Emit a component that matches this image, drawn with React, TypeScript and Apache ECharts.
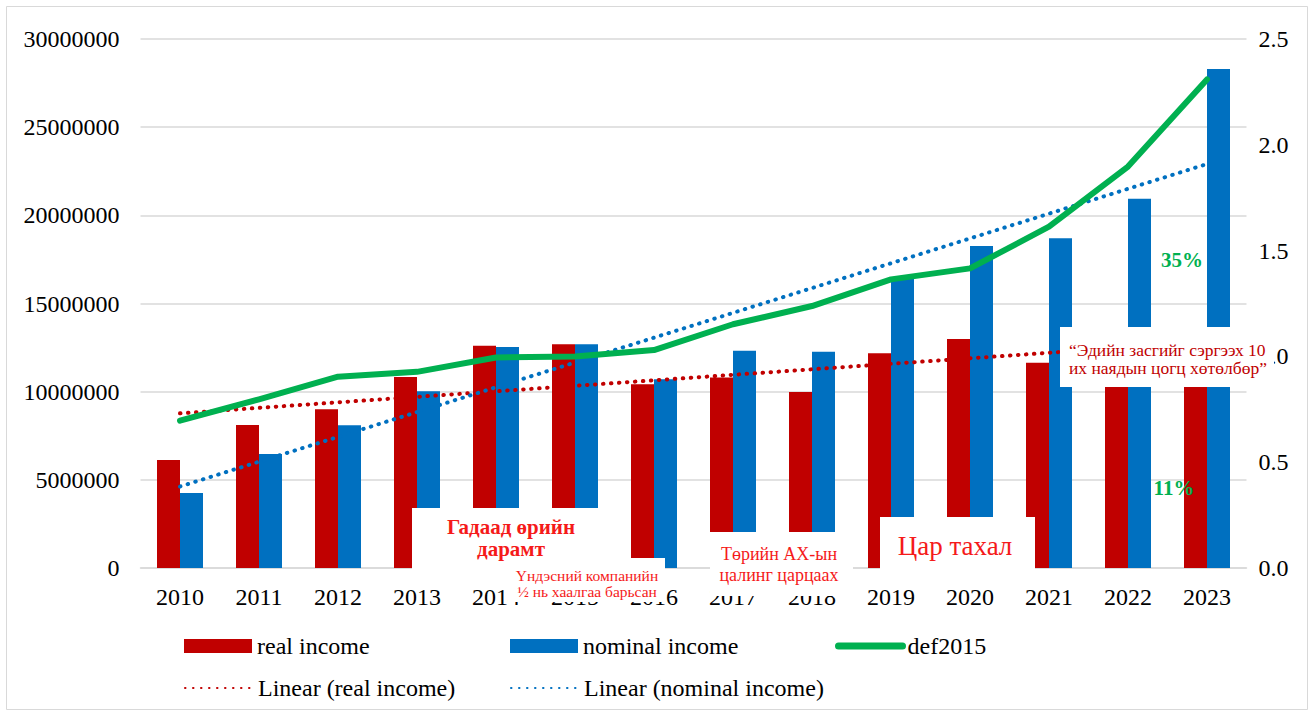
import React, { useEffect, useRef } from "react";
import * as echarts from "echarts";

const years = ["2010", "2011", "2012", "2013", "2014", "2015", "2016", "2017", "2018", "2019", "2020", "2021", "2022", "2023"];
const realIncome = [6120000, 8110000, 9000000, 10830000, 12610000, 12690000, 10420000, 10810000, 9980000, 12180000, 12990000, 11640000, 11040000, 12260000];
const nominalIncome = [4260000, 6460000, 8090000, 10020000, 12530000, 12690000, 10700000, 12320000, 12270000, 16460000, 18260000, 18700000, 20940000, 28300000];
const def2015 = [0.696, 0.797, 0.904, 0.927, 0.995, 1.0, 1.03, 1.152, 1.238, 1.364, 1.416, 1.613, 1.897, 2.309];
// trendline endpoints (2010, 2023)
const trendReal = [8770000, 12830000];
const trendNominal = [4620000, 22910000];
const leftTicks = { min: 0, max: 30000000, interval: 5000000 };
const rightTicks = { min: 0, max: 2.5, interval: 0.5 };

const FONT = "Liberation Serif, Times New Roman, serif";

function endpoints(pair: number[]) {
  return years.map((_, i) => (i === 0 ? pair[0] : i === years.length - 1 ? pair[1] : null));
}

export default function App() {
  const ref = useRef<HTMLDivElement>(null);
  useEffect(() => {
    if (!ref.current) return;
    const chart = echarts.init(ref.current, null, { renderer: "svg" });
    const legendText = { fontSize: 24, fontFamily: FONT, color: "#000" };
    const legendBase = { itemWidth: 68, itemHeight: 14, textStyle: legendText, selectedMode: false as const, padding: 0 };
    const lineLegend = { ...legendBase, itemStyle: { opacity: 0 } };
    const box = (x: number, y: number, w: number, h: number) => ({
      type: "rect", z: 1000, z2: 1000, shape: { x, y, width: w, height: h }, style: { fill: "#fff" },
    });
    const txt = (x: number, y: number, text: string, size: number, color: string, align: string, lh: number, weight = "normal") => ({
      type: "text", z: 1001, z2: 1001, x, y,
      style: { text, font: `${weight} ${size}px ${FONT}`, fill: color, align, verticalAlign: "middle", lineHeight: lh },
    });
    chart.setOption({
      animation: false,
      textStyle: { fontFamily: FONT },
      grid: { left: 140.5, right: 67.5, top: 39, bottom: 148, containLabel: false },
      xAxis: {
        type: "category",
        data: years,
        z: 0,
        axisLine: { lineStyle: { color: "#d9d9d9", width: 1.5 } },
        axisTick: { show: false },
        axisLabel: { fontSize: 24, fontFamily: FONT, color: "#000", margin: 17 },
      },
      yAxis: [
        {
          type: "value", ...leftTicks,
          axisLabel: { fontSize: 24, fontFamily: FONT, color: "#000", margin: 21, formatter: (v: number) => String(v) },
          splitLine: { lineStyle: { color: "#d9d9d9", width: 1.5 } },
          axisLine: { show: false }, axisTick: { show: false },
        },
        {
          type: "value", ...rightTicks,
          axisLabel: { fontSize: 24, fontFamily: FONT, color: "#000", margin: 12, formatter: (v: number) => v.toFixed(1) },
          splitLine: { show: false }, axisLine: { show: false }, axisTick: { show: false },
        },
      ],
      legend: [
        { ...legendBase, data: [{ name: "real income", icon: "rect" }], left: 184, top: 634 },
        { ...legendBase, data: [{ name: "nominal income", icon: "rect" }], left: 510, top: 634 },
        { ...lineLegend, itemWidth: 64, data: ["def2015"], left: 835, top: 634, lineStyle: { width: 7 } },
        { ...lineLegend, data: ["Linear (real income)"], left: 184, top: 676 },
        { ...lineLegend, data: ["Linear (nominal income)"], left: 510, top: 676 },
      ],
      series: [
        { name: "real income", type: "bar", data: realIncome, barWidth: 23, barGap: "0%", itemStyle: { color: "#C00000" }, z: 2 },
        { name: "nominal income", type: "bar", data: nominalIncome, barWidth: 23, barGap: "0%", itemStyle: { color: "#0070C0" }, z: 2 },
        {
          name: "Linear (real income)", type: "line", data: endpoints(trendReal), connectNulls: true, symbol: "none", z: 3,
          lineStyle: { color: "#C00000", width: 4, type: [0.5, 7.5], cap: "round" }, itemStyle: { color: "#C00000" },
        },
        {
          name: "Linear (nominal income)", type: "line", data: endpoints(trendNominal), connectNulls: true, symbol: "none", z: 3,
          lineStyle: { color: "#0070C0", width: 4, type: [0.5, 7.5], cap: "round" }, itemStyle: { color: "#0070C0" },
        },
        {
          name: "def2015", type: "line", yAxisIndex: 1, data: def2015, symbol: "none", z: 4,
          lineStyle: { color: "#00B050", width: 6, cap: "round", join: "round" }, itemStyle: { color: "#00B050" },
        },
      ],
      graphic: {
        z: 1000,
        zlevel: 0,
        elements: [
          { type: "rect", z: 0, shape: { x: 6.5, y: 6.5, width: 1301, height: 703 }, style: { fill: "none", stroke: "#d9d9d9", lineWidth: 1 } },
          box(412, 508, 213, 70),
          txt(511, 538, "Гадаад өрийн\nдарамт", 21, "#f51a1a", "center", 22, "bold"),
          box(508, 558, 157, 44),
          txt(587, 583, "Үндэсний компанийн\n½ нь хаалгаа барьсан", 15.5, "#f51a1a", "center", 16),
          box(710, 532, 143, 64),
          txt(779, 564, "Төрийн АХ-ын\nцалинг царцаах", 18, "#f51a1a", "center", 21),
          box(880, 517, 155, 55),
          txt(955, 546, "Цар тахал", 27, "#f51a1a", "center", 30),
          box(1060, 327, 214, 60),
          txt(1069, 359, "“Эдийн засгийг сэргээх 10\nих наядын цогц хөтөлбөр”", 17.5, "#c00000", "left", 18),
          txt(1182, 260, "35%", 21, "#00B050", "center", 22, "bold"),
          txt(1174, 488, "11%", 21, "#00B050", "center", 22, "bold"),
        ],
      },
    });
    return () => chart.dispose();
  }, []);
  return <div ref={ref} style={{ position: "absolute", left: 0, top: 0, width: 1314, height: 716, background: "#fff" }} />;
}
